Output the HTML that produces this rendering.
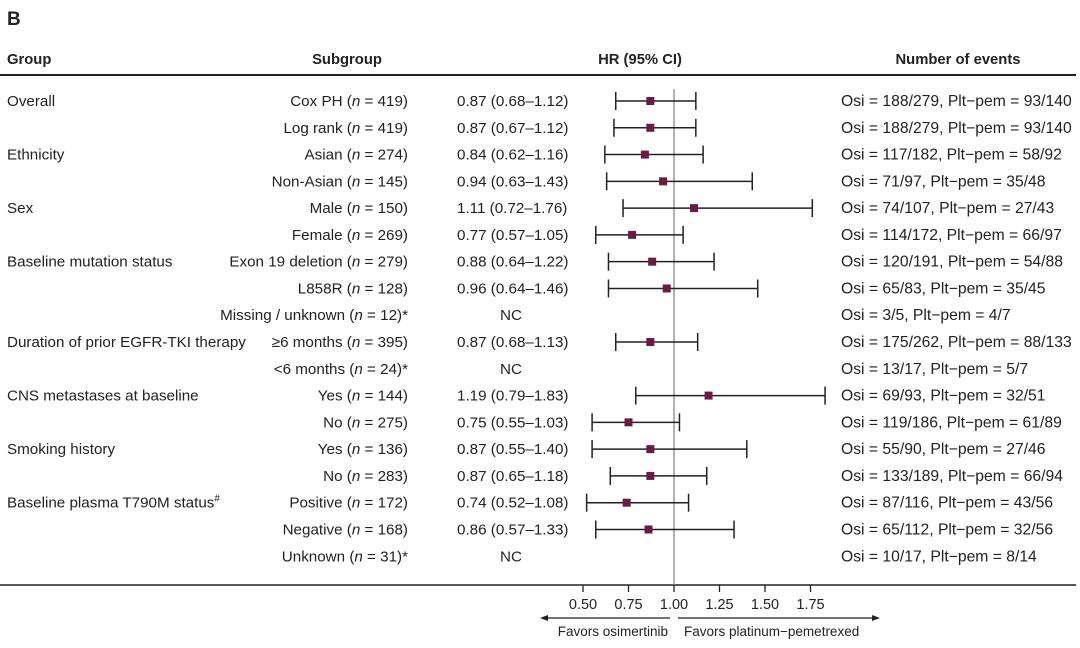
<!DOCTYPE html>
<html><head><meta charset="utf-8">
<style>
body{margin:0;background:#fff;}
svg text{font-family:"Liberation Sans",Arial,sans-serif;fill:#222;}
</style></head>
<body>
<svg width="1080" height="643" viewBox="0 0 1080 643" xmlns="http://www.w3.org/2000/svg">
<text x="7" y="25" font-size="19" font-weight="bold">B</text>
<g font-size="14.8" font-weight="bold">
<text x="7" y="64">Group</text>
<text x="347" y="64" text-anchor="middle">Subgroup</text>
<text x="640" y="64" text-anchor="middle">HR (95% CI)</text>
<text x="958" y="64" text-anchor="middle">Number of events</text>
</g>
<line x1="0" y1="75" x2="1076" y2="75" stroke="#222" stroke-width="2"/>
<line x1="0" y1="585" x2="1076" y2="585" stroke="#222" stroke-width="1.5"/>
<line x1="674" y1="89" x2="674" y2="585" stroke="#888" stroke-width="1.3"/>
<g id="rows"></g>
<g id="axis"></g>
<g>
<line x1="670" y1="618" x2="546" y2="618" stroke="#222" stroke-width="1.3"/>
<polygon points="540,618 548,615 548,621" fill="#222"/>
<line x1="678" y1="618" x2="874" y2="618" stroke="#222" stroke-width="1.3"/>
<polygon points="880,618 872,615 872,621" fill="#222"/>
<text x="668" y="636" font-size="13.5" text-anchor="end">Favors osimertinib</text>
<text x="684" y="636" font-size="13.5">Favors platinum−pemetrexed</text>
</g>
</svg>
<script>
const groups=["Overall","","Ethnicity","","Sex","","Baseline mutation status","","","Duration of prior EGFR-TKI therapy","","CNS metastases at baseline","","Smoking history","","Baseline plasma T790M status#","",""];
const subgroups=["Cox PH (|n| = 419)","Log rank (|n| = 419)","Asian (|n| = 274)","Non-Asian (|n| = 145)","Male (|n| = 150)","Female (|n| = 269)","Exon 19 deletion (|n| = 279)","L858R (|n| = 128)","Missing / unknown (|n| = 12)*","≥6 months (|n| = 395)","<6 months (|n| = 24)*","Yes (|n| = 144)","No (|n| = 275)","Yes (|n| = 136)","No (|n| = 283)","Positive (|n| = 172)","Negative (|n| = 168)","Unknown (|n| = 31)*"];
const hr=[0.87,0.87,0.84,0.94,1.11,0.77,0.88,0.96,null,0.87,null,1.19,0.75,0.87,0.87,0.74,0.86,null];
const lo=[0.68,0.67,0.62,0.63,0.72,0.57,0.64,0.64,null,0.68,null,0.79,0.55,0.55,0.65,0.52,0.57,null];
const hi=[1.12,1.12,1.16,1.43,1.76,1.05,1.22,1.46,null,1.13,null,1.83,1.03,1.40,1.18,1.08,1.33,null];
const events=["Osi = 188/279, Plt−pem = 93/140","Osi = 188/279, Plt−pem = 93/140","Osi = 117/182, Plt−pem = 58/92","Osi = 71/97, Plt−pem = 35/48","Osi = 74/107, Plt−pem = 27/43","Osi = 114/172, Plt−pem = 66/97","Osi = 120/191, Plt−pem = 54/88","Osi = 65/83, Plt−pem = 35/45","Osi = 3/5, Plt−pem = 4/7","Osi = 175/262, Plt−pem = 88/133","Osi = 13/17, Plt−pem = 5/7","Osi = 69/93, Plt−pem = 32/51","Osi = 119/186, Plt−pem = 61/89","Osi = 55/90, Plt−pem = 27/46","Osi = 133/189, Plt−pem = 66/94","Osi = 87/116, Plt−pem = 43/56","Osi = 65/112, Plt−pem = 32/56","Osi = 10/17, Plt−pem = 8/14"];
const ticks=[0.5,0.75,1.0,1.25,1.5,1.75];
const tickLabels=["0.50","0.75","1.00","1.25","1.50","1.75"];
const NS="http://www.w3.org/2000/svg";
const xs=v=>674+(v-1)*182;
const ys=i=>101+i*26.78;
const FS=15.2;
function mk(tag,attrs,parent){const e=document.createElementNS(NS,tag);for(const k in attrs)e.setAttribute(k,attrs[k]);parent.appendChild(e);return e;}
const rows=document.getElementById('rows');
subgroups.forEach((s,i)=>{
  const y=ys(i);
  const g=mk('g',{},rows);
  
  
  if(groups[i]){
    const t=mk('text',{x:7,y:y+5,'font-size':FS},g);
    
    
    if(groups[i].endsWith('#')){t.textContent=groups[i].slice(0,-1);const sp=mk('tspan',{'font-size':10,dy:-6},t);sp.textContent='#';}
    else t.textContent=groups[i];
  }
  const st=mk('text',{x:408,y:y+5,'font-size':FS,'text-anchor':'end'},g);
  
  
  s.split('|').forEach((p,j)=>{const sp=mk('tspan',j===1?{'font-style':'italic'}:{},st);sp.textContent=p;});
  const ht=mk('text',{x:hr[i]===null?500:457,y:y+5,'font-size':FS},g);
  
  
  ht.textContent=hr[i]===null?'NC':hr[i].toFixed(2)+' ('+lo[i].toFixed(2)+'–'+hi[i].toFixed(2)+')';
  const et=mk('text',{x:841,y:y+5,'font-size':15.7},g);
  
  
  et.textContent=events[i];
  if(hr[i]!==null){
    const ci=mk('g',{stroke:'#222','stroke-width':1.5},g);
    
    
    mk('line',{x1:xs(lo[i]),x2:xs(hi[i]),y1:y,y2:y},ci);
    mk('line',{x1:xs(lo[i]),x2:xs(lo[i]),y1:y-9,y2:y+9},ci);
    mk('line',{x1:xs(hi[i]),x2:xs(hi[i]),y1:y-9,y2:y+9},ci);
    const m=mk('rect',{x:xs(hr[i])-4,y:y-4,width:8,height:8,fill:'#6b1a45'},g);
    
    
  }
});
const ax=document.getElementById('axis');
ticks.forEach((t,i)=>{
  const l=mk('line',{x1:xs(t),x2:xs(t),y1:585,y2:592,stroke:'#222','stroke-width':1.3},ax);
  
  
  const tx=mk('text',{x:xs(t),y:609,'font-size':14.5,'text-anchor':'middle'},ax);
  
  
  tx.textContent=tickLabels[i];
});
</script>
</body></html>
